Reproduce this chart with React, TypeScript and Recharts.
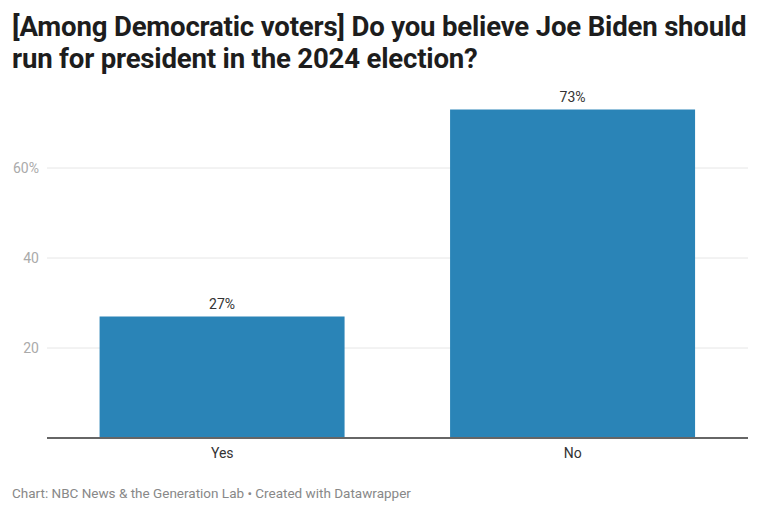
import React from "react";
import { BarChart, Bar, XAxis, YAxis, CartesianGrid, LabelList, ReferenceLine } from "recharts";

const categories = ["Yes", "No"];
const values = [27, 73];
const yTicks = [20, 40, 60];

const data = categories.map((c, i) => ({ name: c, value: values[i] }));

const font = "Roboto, 'Noto Sans', sans-serif";

export default function App() {
  return (
    <div style={{ position: "absolute", left: 0, top: 0, width: 760, height: 515, background: "#fff", fontFamily: font }}>
      <div
        style={{
          position: "absolute",
          left: 12,
          top: 11,
          width: 748,
          fontSize: 27.6,
          fontWeight: 700,
          lineHeight: "32px",
          color: "#1d1d1d",
          letterSpacing: "-0.2px",
          whiteSpace: "nowrap",
        }}
      >
        [Among Democratic voters] Do you believe Joe Biden should
        <br />
        run for president in the 2024 election?
      </div>
      <div style={{ position: "absolute", left: 0, top: 0 }}>
        <BarChart
          width={760}
          height={515}
          data={data}
          margin={{ top: 78, right: 12, bottom: 47, left: 0 }}
          barCategoryGap="15%"
        >
          <CartesianGrid vertical={false} stroke="#e6e6e6" horizontalValues={yTicks} />
          <XAxis
            dataKey="name"
            axisLine={false}
            tickLine={false}
            height={30}
            tick={{ fill: "#333", fontSize: 14, fontFamily: font }}
            tickMargin={4}
          />
          <YAxis
            type="number"
            domain={[0, 80]}
            ticks={yTicks}
            width={47}
            axisLine={false}
            tickLine={false}
            tickFormatter={(v: number) => (v === 60 ? `${v}%` : `${v}`)}
            tick={{ fill: "#aaaaaa", fontSize: 14, fontFamily: font }}
          />
          <Bar dataKey="value" fill="#2a84b7" isAnimationActive={false}>
            <LabelList
              dataKey="value"
              position="top"
              offset={8}
              formatter={(v: number) => `${v}%`}
              style={{ fill: "#333", fontSize: 14, fontFamily: font }}
            />
          </Bar>
          <ReferenceLine y={0} stroke="#666" strokeWidth={2} />
        </BarChart>
      </div>
      <div
        style={{
          position: "absolute",
          left: 12,
          top: 485,
          fontSize: 13.5,
          color: "#888",
        }}
      >
        Chart: NBC News &amp; the Generation Lab • Created with Datawrapper
      </div>
    </div>
  );
}
